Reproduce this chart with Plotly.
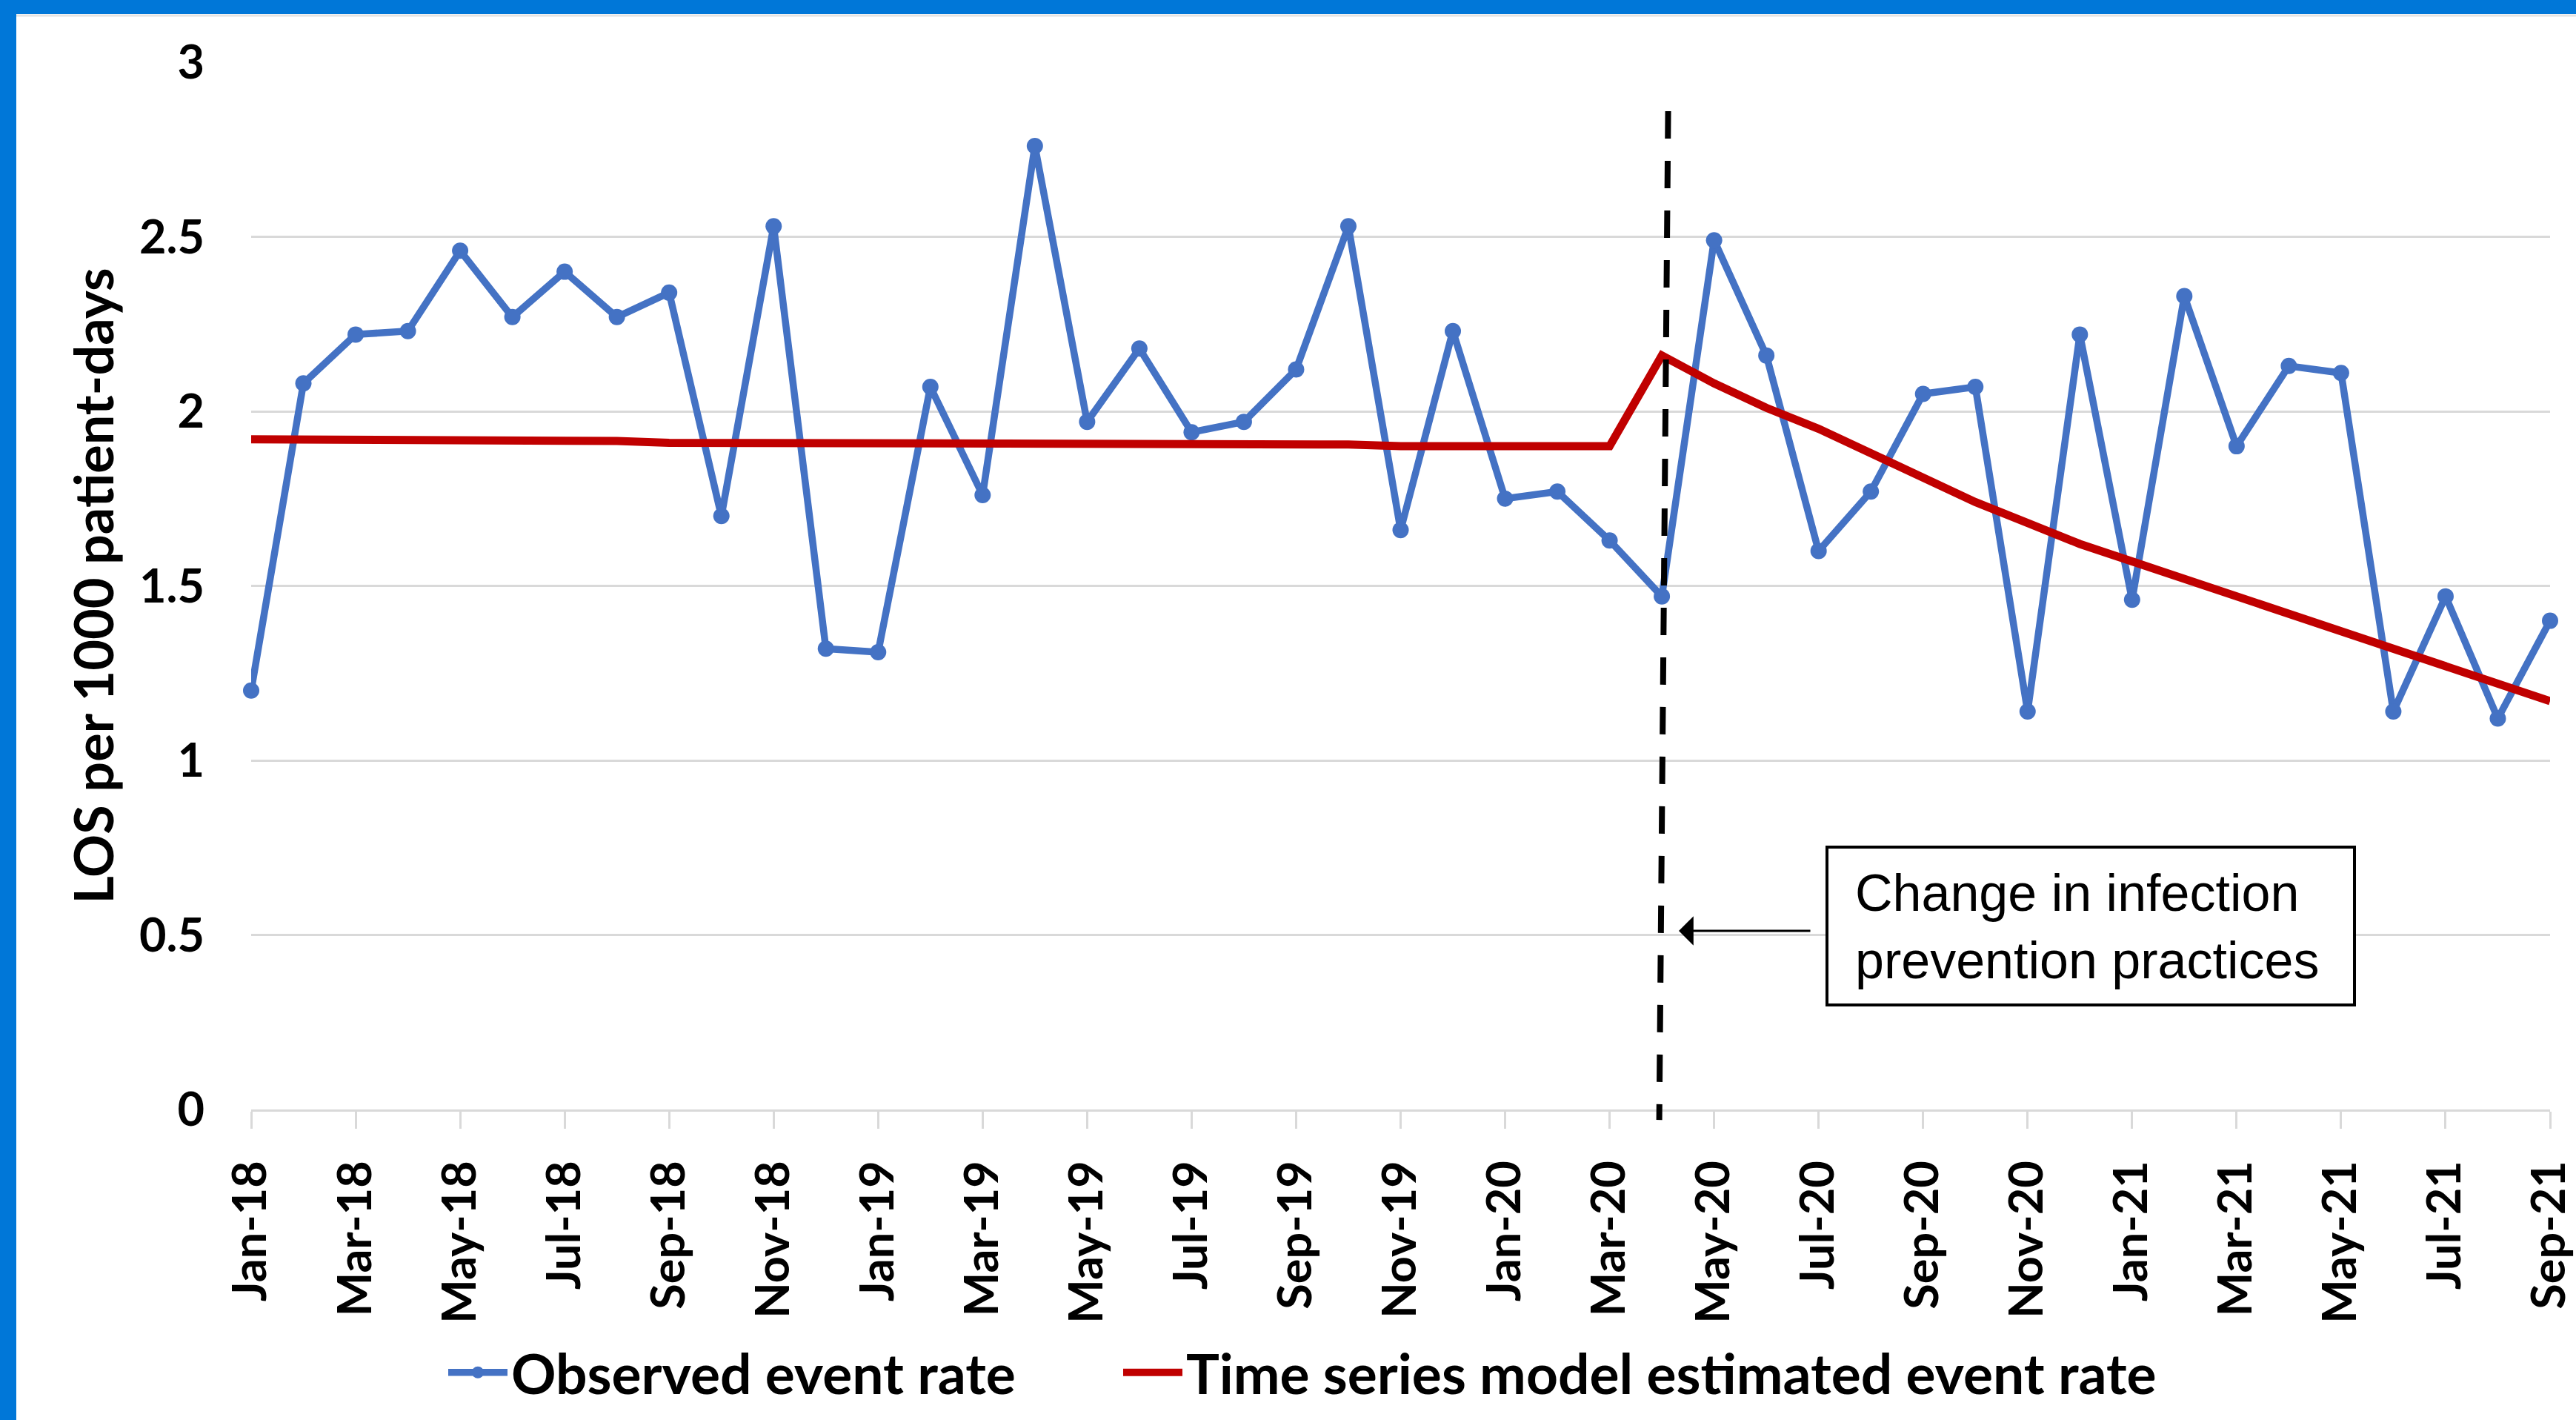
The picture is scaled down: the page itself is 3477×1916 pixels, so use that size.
import plotly.graph_objects as go
import pandas as pd

# ---- data ----
months = pd.date_range("2018-01-01", "2021-09-01", freq="MS")
month_labels = [d.strftime("%b-%y") for d in months]

observed = [1.20, 2.08, 2.22, 2.23, 2.46, 2.27, 2.40, 2.27, 2.34, 1.70,
            2.53, 1.32, 1.31, 2.07, 1.76, 2.76, 1.97, 2.18, 1.94, 1.97,
            2.12, 2.53, 1.66, 2.23, 1.75, 1.77, 1.63, 1.47, 2.49, 2.16,
            1.60, 1.77, 2.05, 2.07, 1.14, 2.22, 1.46, 2.33, 1.90, 2.13,
            2.11, 1.14, 1.47, 1.12, 1.40]

model = [1.920, 1.920, 1.915, 1.915, 1.915, 1.915, 1.915, 1.915, 1.910, 1.910,
         1.910, 1.910, 1.910, 1.910, 1.910, 1.910, 1.910, 1.905, 1.905, 1.905,
         1.905, 1.905, 1.900, 1.900, 1.900, 1.900, 1.900, 2.16, 2.08, 2.01,
         1.95, 1.88, 1.81, 1.74, 1.68, 1.62, 1.57, 1.52, 1.47, 1.42,
         1.37, 1.32, 1.27, 1.22, 1.17]

y_ticks = [0, 0.5, 1, 1.5, 2, 2.5, 3]
y_tick_text = ["0", "0.5", "1", "1.5", "2", "2.5", "3"]
intervention_label = "Apr-20"
annotation_text = "Change in infection<br>prevention practices"

# ---- layout geometry ----
W, H = 3477, 1916
L, R, T, B = 339, 35, 84, 419
PW, PH = W - L - R, H - T - B

x_idx = list(range(len(month_labels)))
n_last = len(month_labels) - 1
tickvals = x_idx[::2]
ticktext = month_labels[::2]

BLUE = "#4472C4"
RED = "#C00000"
GRID = "#D9D9D9"
FRAME = "#0077D8"
FONT = "Lato, 'Open Sans', sans-serif"
BOXFONT = "'Liberation Sans', Arial, sans-serif"

def px_x(px):
    return (px - L) / PW

def px_y(py):
    return (H - B - py) / PH

def dx(px):          # pixel -> x data index
    return (px - L) / PW * n_last

def dy(py):          # pixel -> y data value
    return (H - B - py) / PH * 3

fig = go.Figure()
fig.add_trace(go.Scatter(
    x=x_idx, y=observed, mode="lines+markers", name="Observed event rate",
    line=dict(color=BLUE, width=9.5), marker=dict(color=BLUE, size=22),
    cliponaxis=False, legend="legend"))
fig.add_trace(go.Scatter(
    x=x_idx, y=model, mode="lines", name="Time series model estimated event rate",
    line=dict(color=RED, width=11), cliponaxis=False, legend="legend2"))

iv = month_labels.index(intervention_label)
shapes = [
    # dashed intervention line (paper refs so it can overhang the axis)
    dict(type="line", xref="paper", yref="paper",
         x0=(iv + 0.12) / n_last, y0=2.86 / 3, x1=(iv - 0.05) / n_last, y1=-0.03 / 3,
         line=dict(color="black", width=8, dash="37px,30px")),
    # annotation box
    dict(type="rect", xref="x", yref="y",
         x0=dx(2466), x1=dx(3178), y0=dy(1356), y1=dy(1143),
         fillcolor="white", line=dict(color="black", width=4)),
    # blue frame: top and left bars
    dict(type="rect", xref="paper", yref="paper",
         x0=px_x(0), x1=px_x(W), y0=px_y(19), y1=px_y(0),
         fillcolor=FRAME, line=dict(width=0), layer="above"),
    dict(type="rect", xref="paper", yref="paper",
         x0=px_x(0), x1=px_x(22), y0=px_y(H), y1=px_y(0),
         fillcolor=FRAME, line=dict(width=0), layer="above"),
    dict(type="line", xref="paper", yref="paper",
         x0=px_x(22), x1=px_x(W), y0=px_y(21), y1=px_y(21),
         line=dict(color="#E4E4E4", width=3)),
]

annotations = [
    # arrow
    dict(x=dx(2266), y=dy(1256), xref="x", yref="y",
         ax=dx(2445), ay=dy(1256), axref="x", ayref="y",
         text="", showarrow=True,
         arrowhead=1, arrowsize=2.2, arrowwidth=3, arrowcolor="black"),
    # box text
    dict(x=dx(2502), y=dy(1250), xref="x", yref="y",
         xanchor="left", yanchor="middle", align="left",
         text=annotation_text, showarrow=False,
         font=dict(family=BOXFONT, size=70, color="black")),
    # y axis title
    dict(text="LOS per 1000 patient-days", xref="paper", yref="paper",
         x=0, y=0.5, xanchor="center", yanchor="middle", xshift=-(L - 124),
         textangle=-90, showarrow=False,
         font=dict(family=FONT, size=72, color="black", weight="bold")),
]

legend_font = dict(family=FONT, size=75, color="black", weight="bold")

fig.update_layout(
    width=W, height=H,
    margin=dict(l=L, r=R, t=T, b=B, autoexpand=False),
    paper_bgcolor="white", plot_bgcolor="white",
    showlegend=True,
    legend=dict(orientation="h", xref="container", yref="container",
                x=600 / W, y=1 - 1852 / H, xanchor="left", yanchor="middle",
                font=legend_font, itemwidth=80, bgcolor="rgba(0,0,0,0)"),
    legend2=dict(orientation="h", xref="container", yref="container",
                 x=1511 / W, y=1 - 1852 / H, xanchor="left", yanchor="middle",
                 font=legend_font, itemwidth=80, bgcolor="rgba(0,0,0,0)"),
    xaxis=dict(range=[0, n_last], tickmode="array", tickvals=tickvals, ticktext=ticktext,
               tickangle=-90, showgrid=False, zeroline=False,
               showline=True, linecolor=GRID, linewidth=3,
               ticks="outside", ticklen=23, tickwidth=3, tickcolor=GRID,
               ticklabelstandoff=18,
               tickfont=dict(family=FONT, size=63, color="black", weight="bold")),
    yaxis=dict(range=[0, 3], tickmode="array", tickvals=y_ticks, ticktext=y_tick_text,
               showgrid=True, gridcolor=GRID, gridwidth=3, zeroline=False,
               showline=False, ticks="", ticklabelstandoff=62,
               tickfont=dict(family=FONT, size=63, color="black", weight="bold")),
    shapes=shapes, annotations=annotations,
)

fig.write_html(
    "out.html",
    config={"displayModeBar": False},
    post_script="document.body.style.margin='0';document.body.style.overflow='hidden';",
)
